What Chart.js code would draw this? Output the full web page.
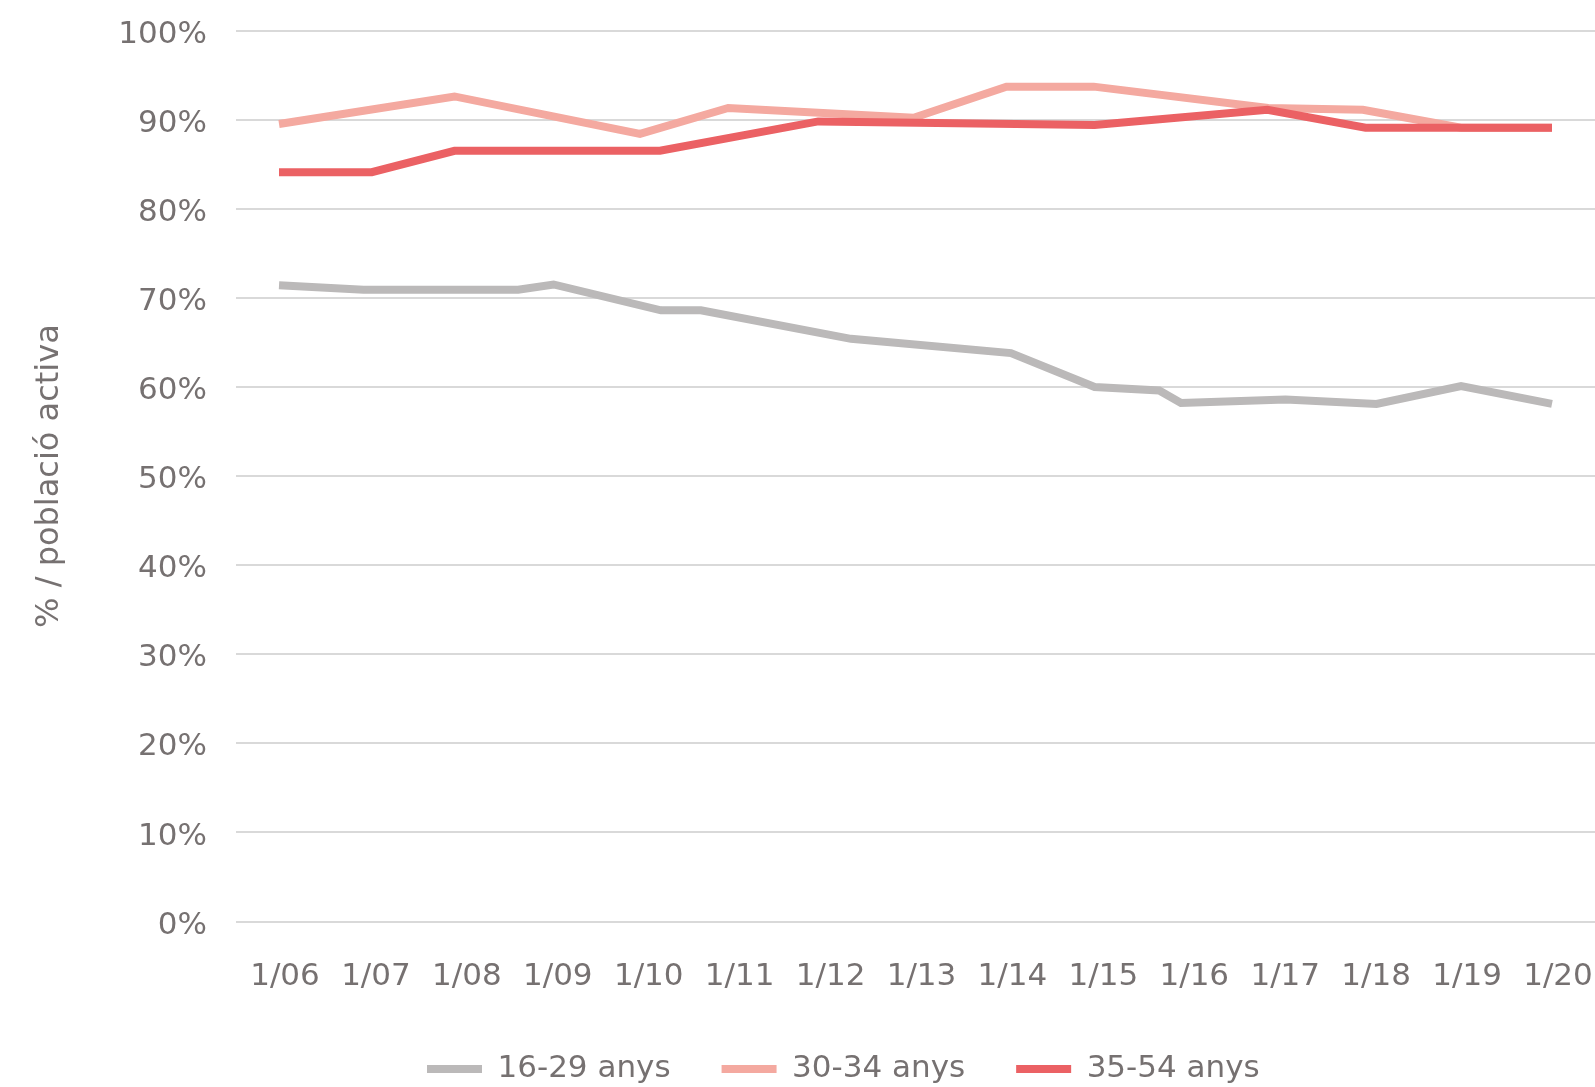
<!DOCTYPE html>
<html><head><meta charset="utf-8">
<script src="https://cdn.jsdelivr.net/npm/chart.js@4.4.1/dist/chart.umd.min.js"></script>
<style>html,body{margin:0;padding:0;background:#fff;} canvas{display:block;}</style>
</head><body>
<canvas id="c" width="1595" height="1087"></canvas>
<script>
// ---- data ----
const tickYears  = [2006,2007,2008,2009,2010,2011,2012,2013,2014,2015,2016,2017,2018,2019,2020];
const tickLabels = ['1/06','1/07','1/08','1/09','1/10','1/11','1/12','1/13','1/14','1/15','1/16','1/17','1/18','1/19','1/20'];
const yTickValues = [0,10,20,30,40,50,60,70,80,90,100];
const seriesNames = ['16-29 anys','30-34 anys','35-54 anys'];

const dates1629  = [2006, 2006.93, 2008.63, 2009.02, 2010.2, 2010.64, 2012.29, 2014.05, 2014.97, 2015.68, 2015.92, 2017.07, 2018.07, 2019, 2020];
const values1629 = [71.4, 70.9, 70.9, 71.5, 68.6, 68.6, 65.4, 63.8, 60.0, 59.6, 58.2, 58.6, 58.1, 60.1, 58.1];

const dates3034  = [2006, 2007.93, 2009.97, 2010.94, 2012.98, 2014.0, 2014.96, 2016.88, 2017.92, 2019, 2020];
const values3034 = [89.5, 92.6, 88.4, 91.3, 90.2, 93.7, 93.7, 91.3, 91.1, 89.1, 89.1];

const dates3554  = [2006, 2007.02, 2007.93, 2010.19, 2011.93, 2014.97, 2016.87, 2017.95, 2020];
const values3554 = [84.1, 84.1, 86.5, 86.5, 89.8, 89.4, 91.1, 89.1, 89.1];

// ---- styles ----
const TEXT = '#767171';
const FONT = '"DejaVu Sans", sans-serif';
const colors = ['#bbb9b9', '#f4a9a0', '#eb6164'];

function pts(xs, ys){ return xs.map((x,i)=>({x:x, y:ys[i]})); }

const legendPlace = {
  id: 'legendPlace',
  afterLayout(chart){
    const lg = chart.legend; if (!lg || !lg.lineWidths) return;
    const pad = lg.options.labels.padding;
    const curX = (lg.left + pad + lg.right - lg.lineWidths[0]) / 2;
    const dx = 427 - curX;
    lg.left += dx; lg.right += dx;
    const fs = lg.options.labels.font.size;
    const top = 1069 - fs/2 - pad;
    const dy = top - lg.top;
    lg.top += dy; lg.bottom += dy;
  }
};

new Chart(document.getElementById('c'), {
  type: 'line',
  data: {
    datasets: [
      {label: seriesNames[0], data: pts(dates1629, values1629), borderColor: colors[0], backgroundColor: colors[0], order: 2},
      {label: seriesNames[1], data: pts(dates3034, values3034), borderColor: colors[1], backgroundColor: colors[1], order: 1},
      {label: seriesNames[2], data: pts(dates3554, values3554), borderColor: colors[2], backgroundColor: colors[2], order: 0}
    ]
  },
  options: {
    responsive: false,
    animation: false,
    layout: {padding: {top: 30.5, left: 0, right: 0, bottom: 0}},
    elements: {
      line: {borderWidth: 8, tension: 0, borderCapStyle: 'butt', borderJoinStyle: 'miter', fill: false},
      point: {radius: 0, hoverRadius: 0}
    },
    plugins: {
      tooltip: {enabled: false},
      legend: {
        position: 'bottom',
        reverse: true,
        labels: {
          color: TEXT,
          font: {family: FONT, size: 31},
          boxWidth: 55, boxHeight: 8, padding: 51,
          generateLabels(chart){
            const items = Chart.defaults.plugins.legend.labels.generateLabels(chart);
            items.forEach(it => { it.lineWidth = 0; it.fillStyle = it.strokeStyle; });
            return items;
          }
        }
      }
    },
    scales: {
      x: {
        type: 'linear',
        min: 2005.527, max: 2020.473,
        afterBuildTicks(scale){ scale.ticks = tickYears.map(v => ({value: v})); },
        afterFit(scale){
          const lh = scale.chart.legend ? scale.chart.legend.height : 0;
          scale.height = 1087 - 921.6 - lh;
          scale.paddingLeft = 0; scale.paddingRight = 0;
        },
        grid: {display: false, drawTicks: false},
        border: {display: false},
        ticks: {
          autoSkip: false, maxRotation: 0, minRotation: 0, padding: 37, labelOffset: 6,
          color: TEXT, font: {family: FONT, size: 31},
          callback(v){ const i = tickYears.indexOf(v); return i >= 0 ? tickLabels[i] : ''; }
        }
      },
      y: {
        min: 0, max: 100,
        afterBuildTicks(scale){ scale.ticks = yTickValues.map(v => ({value: v})); },
        afterFit(scale){ scale.width = 236; scale.paddingTop = 0; scale.paddingBottom = 0; },
        grid: {color: '#d9d9d9', lineWidth: 2, drawTicks: false},
        border: {display: false},
        ticks: {
          padding: 29, labelOffset: 4, color: TEXT, font: {family: FONT, size: 31},
          callback(v){ return v + '%'; }
        },
        title: {
          display: true, text: '% / població activa', color: TEXT,
          font: {family: FONT, size: 32}, padding: {top: 30, bottom: 0}
        }
      }
    }
  },
  plugins: [legendPlace]
});
</script>
</body></html>
